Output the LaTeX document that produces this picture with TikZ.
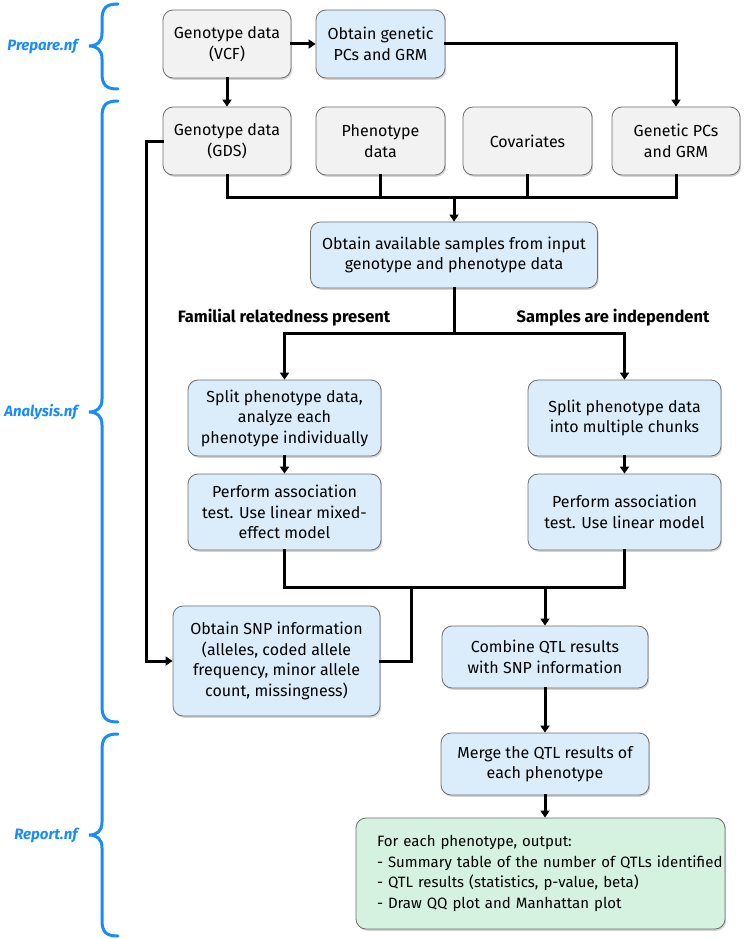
\documentclass[tikz,border=0pt]{standalone}
\usepackage{fontspec}
\setmainfont{Fira Sans}
\usetikzlibrary{arrows.meta,shadows,calc}
\definecolor{boxgray}{RGB}{242,242,242}
\definecolor{boxblue}{RGB}{219,237,251}
\definecolor{boxgreen}{RGB}{213,242,225}
\definecolor{edgegray}{RGB}{110,110,110}
\definecolor{braceblue}{RGB}{24,140,255}
\begin{document}
\begin{tikzpicture}[x=1pt,y=-1pt,
  box/.style={draw=edgegray,line width=0.8pt,rounded corners=10pt,align=center,
    font=\fontsize{16}{20.5}\selectfont,inner sep=2pt,
    drop shadow={shadow xshift=1.2pt,shadow yshift=-1.8pt,opacity=0.35}},
  graybox/.style={box,fill=boxgray},
  bluebox/.style={box,fill=boxblue},
  greenbox/.style={box,fill=boxgreen},
  conn/.style={line width=3pt,line cap=rect},
  arr/.style={conn,-{Triangle[length=7pt,width=9pt]}},
  bracepath/.style={draw=braceblue,line width=3pt,line cap=round},
  bracelabel/.style={text=braceblue,font=\fontsize{15}{18}\selectfont\bfseries\itshape,anchor=east},
  branchlabel/.style={font=\fontsize{16.5}{18}\selectfont\bfseries}
]
\useasboundingbox (0,0) rectangle (746,939);

% nodes
\node[graybox,minimum width=128pt,minimum height=68pt] (vcf) at (227,44) {Genotype data\\(VCF)};
\node[bluebox,minimum width=129pt,minimum height=68pt] (pcs) at (380.5,44) {Obtain genetic\\PCs and GRM};
\node[graybox,minimum width=128pt,minimum height=68pt] (gds) at (227,141) {Genotype data\\(GDS)};
\node[graybox,minimum width=129pt,minimum height=68pt] (pheno) at (380.5,141) {Phenotype\\data};
\node[graybox,minimum width=129pt,minimum height=68pt] (cov) at (527.5,141) {Covariates};
\node[graybox,minimum width=128pt,minimum height=68pt] (gpcs) at (676,141) {Genetic PCs\\and GRM};
\node[bluebox,minimum width=287pt,minimum height=66pt] (avail) at (454,255) {Obtain available samples from input\\genotype and phenotype data};
\node[bluebox,minimum width=193pt,minimum height=76pt] (splitL) at (284.5,418) {Split phenotype data,\\analyze each\\phenotype individually};
\node[bluebox,minimum width=193pt,minimum height=76pt] (perfL) at (284.5,512) {Perform association\\test. Use linear mixed-\\effect model};
\node[bluebox,minimum width=193pt,minimum height=76pt] (splitR) at (624.5,418) {Split phenotype data\\into multiple chunks};
\node[bluebox,minimum width=193pt,minimum height=76pt] (perfR) at (624.5,512) {Perform association\\test. Use linear model};
\node[bluebox,minimum width=207pt,minimum height=110pt] (snp) at (276.5,661) {Obtain SNP information\\(alleles, coded allele\\frequency, minor allele\\count, missingness)};
\node[bluebox,minimum width=206pt,minimum height=62pt] (comb) at (545,657) {Combine QTL results\\with SNP information};
\node[bluebox,minimum width=208pt,minimum height=62pt] (merge) at (545,764) {Merge the QTL results of\\each phenotype};
\node[greenbox,minimum width=369pt,minimum height=111pt,align=left,text width=327pt,font=\fontsize{15}{20.5}\selectfont] (report) at (540.5,873.5)
  {\mbox{For each phenotype, output:}\\\mbox{- Summary table of the number of QTLs identified}\\\mbox{- QTL results (statistics, p-value, beta)}\\\mbox{- Draw QQ plot and Manhattan plot}};

\node[branchlabel] (lblL) at (284,318) {Familial relatedness present};
\node[branchlabel] (lblR) at (613,318) {Samples are independent};

% junction coordinates
\coordinate (j1) at (454,197);
\coordinate (j2) at (454,333);
\coordinate (j3) at (545,587);
\coordinate (jsnp) at (411,587);
\coordinate (jgds) at (146,141);

% connectors
\draw[arr] (vcf.east) -- (pcs.west);
\draw[arr] (pcs.east) -| (gpcs.north);
\draw[arr] (vcf.south) -- (gds.north);
\draw[conn] (gds.south) |- (gpcs.south |- j1) -- (gpcs.south);
\draw[conn] (pheno.south) -- (pheno.south |- j1);
\draw[conn] (cov.south) -- (cov.south |- j1);
\draw[arr] (j1) -- (avail.north);
\draw[conn] (avail.south) -- (j2);
\draw[arr] (j2) -| (splitL.north);
\draw[arr] (j2) -| (splitR.north);
\draw[arr] (splitL.south) -- (perfL.north);
\draw[arr] (splitR.south) -- (perfR.north);
\draw[conn] (perfL.south) |- (perfR.south |- j3) -- (perfR.south);
\draw[arr] (j3) -- (comb.north);
\draw[conn] (snp.east) -| (jsnp);
\draw[arr] (gds.west) -- (jgds) |- (snp.west);
\draw[arr] (comb.south) -- (merge.north);
\draw[arr] (merge.south) -- (merge.south |- report.north);

% braces
\newcommand\flowbrace[3]{%
  \draw[bracepath] (118,#1) .. controls (106,#1) and (102,#1+4) .. (102,#1+16)
    -- (102,#2-13) .. controls (102,#2-4) and (97,#2) .. (89,#2)
    .. controls (97,#2) and (102,#2+4) .. (102,#2+13)
    -- (102,#3-16) .. controls (102,#3-4) and (106,#3) .. (118,#3);}
\flowbrace{4}{46}{89}
\flowbrace{101}{412}{722}
\flowbrace{734}{835}{936}

\node[bracelabel] (lprep) at (81,46) {Prepare.nf};
\node[bracelabel] (lana) at (81,412) {Analysis.nf};
\node[bracelabel] (lrep) at (81,835) {Report.nf};
\end{tikzpicture}
\end{document}
